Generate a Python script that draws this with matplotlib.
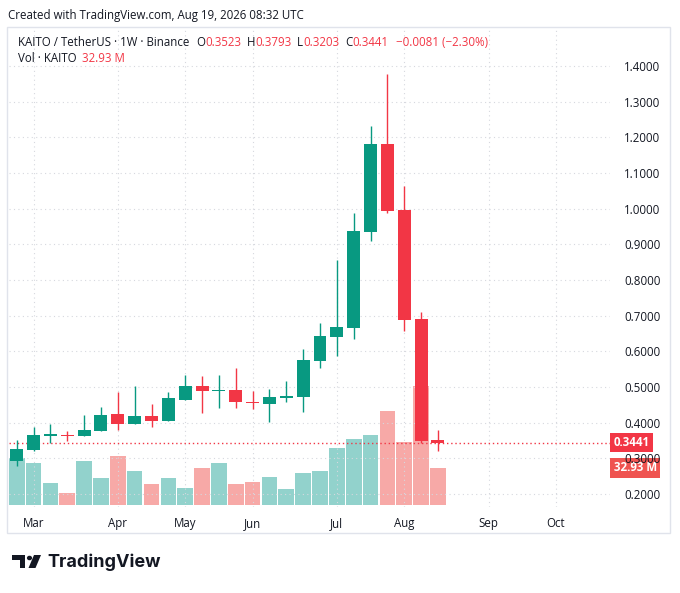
import numpy as np
import pandas as pd
import matplotlib
matplotlib.use('Agg')
import matplotlib.pyplot as plt
from matplotlib.patches import Rectangle, Polygon, Circle

plt.rcParams['font.family'] = ['Open Sans', 'DejaVu Sans']

# weekly KAITO/USDT candles, first week starts 2026-02-23
opens = [0.2935, 0.3235, 0.3640, 0.3650, 0.3630, 0.3770, 0.4235, 0.3955, 0.4190, 0.4040,
         0.4645, 0.5037, 0.4890, 0.4917, 0.4580, 0.4516, 0.4700, 0.4712, 0.5738, 0.6410,
         0.6664, 0.9346, 1.1822, 0.9963, 0.6907, 0.3523]
highs = [0.3515, 0.3870, 0.3955, 0.3767, 0.4207, 0.4430, 0.4860, 0.5037, 0.4516, 0.4850,
         0.5346, 0.5310, 0.5346, 0.5533, 0.4889, 0.4945, 0.5170, 0.6066, 0.6787, 0.8560,
         0.9870, 1.2318, 1.3776, 1.0636, 0.7095, 0.3793]
lows = [0.2786, 0.3210, 0.3422, 0.3495, 0.3620, 0.3760, 0.3796, 0.3950, 0.3870, 0.4040,
        0.4645, 0.4263, 0.4422, 0.4422, 0.4384, 0.4010, 0.4570, 0.4290, 0.5542, 0.5870,
        0.6355, 0.9094, 0.9870, 0.6570, 0.3422, 0.3203]
closes = [0.3263, 0.3647, 0.3660, 0.3620, 0.3796, 0.4224, 0.3955, 0.4180, 0.4040, 0.4684,
          0.5037, 0.4880, 0.4920, 0.4570, 0.4550, 0.4730, 0.4720, 0.5758, 0.6430, 0.6683,
          0.9374, 1.1822, 0.9935, 0.6880, 0.3500, 0.3441]
volumes_m = [42.0, 37.4, 19.7, 10.9, 39.1, 24.1, 43.5, 30.3, 18.8, 24.1,
             15.3, 32.9, 37.4, 18.8, 20.6, 25.0, 14.4, 28.5, 30.3, 50.6,
             58.6, 62.1, 83.0, 55.6, 105.7, 32.93]
price_ticks = [0.2, 0.3, 0.4, 0.5, 0.6, 0.7, 0.8, 0.9, 1.0, 1.1, 1.2, 1.3, 1.4]
last_price = 0.3441
last_vol = 32.93

UP = '#089981'
DOWN = '#F23645'
UP_VOL = '#92d2cc'
DOWN_VOL = '#f7a9a7'
GRID = '#d6d8de'
TXT = '#131722'

W, H = 680, 593
fig = plt.figure(figsize=(W / 100, H / 100), dpi=100)


def fx(px):
    return px / W


def fy(py):
    return 1 - py / H


# outer frame
fig.patches.append(Rectangle((fx(7), fy(533)), fx(663), 506 / H, transform=fig.transFigure,
                             fill=False, edgecolor='#e0e3eb', lw=1.0))

ax = fig.add_axes([fx(9), fy(507), fx(601), 480 / H])
ax2 = ax.twinx()
ax.set_zorder(ax2.get_zorder() + 1)
ax.patch.set_visible(False)

n = len(opens)
x = np.arange(n)
o = np.array(opens)
c = np.array(closes)
up = c >= o

# volume
vcol = [UP_VOL if u else DOWN_VOL for u in up]
ax2.bar(x, np.array(volumes_m) * 1e6, width=0.93, color=vcol, edgecolor='none')
ax2.set_ylim(-1.5e6, 422.2e6)
ax2.set_yticks([])
for s in ax2.spines.values():
    s.set_visible(False)

# candles
ccol = [UP if u else DOWN for u in up]
ax.vlines(x, lows, highs, colors=ccol, lw=1.0, zorder=3)
body_lo = np.minimum(o, c)
body_h = np.maximum(np.abs(c - o), 0.004)
ax.bar(x, body_h, bottom=body_lo, width=0.77, color=ccol, edgecolor='none', zorder=4)

ax.axhline(last_price, color=DOWN, lw=1.0, ls=(0, (1, 2)), zorder=2)

# axes
weeks = pd.date_range('2026-02-23', periods=36, freq='W-MON')
tick_pos = [i for i, d in enumerate(weeks) if d.day <= 7]
tick_lab = [weeks[i].strftime('%b') for i in tick_pos]
ax.set_xlim(-0.457, 35.21)
ax.set_ylim(0.1637, 1.5093)
ax.set_xticks(tick_pos)
ax.set_xticklabels(tick_lab)
ax.yaxis.tick_right()
ax.set_yticks(price_ticks)
ax.set_yticklabels([f'{t:.4f}' for t in price_ticks])
ax.tick_params(axis='both', length=0, labelsize=8.3, colors=TXT)
ax.tick_params(axis='y', pad=10)
ax.tick_params(axis='x', pad=7)
ax.grid(True, color=GRID, lw=0.8, ls=(0, (1, 3)))
for s in ax.spines.values():
    s.set_visible(False)

# last price / volume tags
ax.text(1.006, last_price, f'{last_price:.4f}', transform=ax.get_yaxis_transform(),
        ha='left', va='center', fontsize=8.3, color='white', fontweight='bold', zorder=10,
        bbox=dict(boxstyle='square,pad=0.28', fc=DOWN, ec='none'), clip_on=False)
ax2.text(1.006, last_vol * 1e6, f'{last_vol:.2f} M', transform=ax2.get_yaxis_transform(),
         ha='left', va='center', fontsize=8.3, color='white', fontweight='bold',
         bbox=dict(boxstyle='square,pad=0.28', fc='#ef5350', ec='none'), clip_on=False)

# header
fig.text(fx(8), fy(15), 'Created with TradingView.com, Aug 19, 2026 08:32 UTC',
         fontsize=8.3, color=TXT, va='center', ha='left')

# legend rows, each piece placed right after the previous one
segs = [('O', TXT, 5), ('0.3523', DOWN, 0), ('H', TXT, 4), ('0.3793', DOWN, 0),
        ('L', TXT, 4), ('0.3203', DOWN, 0), ('C', TXT, 4), ('0.3441', DOWN, 0),
        ('−0.0081 (−2.30%)', DOWN, 6)]
prev = fig.text(fx(18), fy(42), 'KAITO / TetherUS · 1W · Binance', fontsize=8.3, color=TXT,
                va='center', ha='left')
for s, col, gap in segs:
    prev = ax.annotate(s, xy=(1, 0), xycoords=prev, xytext=(gap, 0), textcoords='offset points',
                       fontsize=8.3, color=col, va='bottom', ha='left', annotation_clip=False)

t = fig.text(fx(18), fy(59), 'Vol · KAITO', fontsize=8.3, color=TXT, va='center', ha='left')
ax.annotate(f'{last_vol:.2f} M', xy=(1, 0), xycoords=t, xytext=(4, 0), textcoords='offset points',
            fontsize=8.3, color=DOWN, va='bottom', ha='left', annotation_clip=False)

# TradingView logo
fig.patches.append(Polygon([(fx(12), fy(555)), (fx(25), fy(555)), (fx(25), fy(568)), (fx(19.5), fy(568)),
                            (fx(19.5), fy(560)), (fx(12), fy(560))], closed=True,
                           transform=fig.transFigure, fc=TXT, ec='none'))
fig.patches.append(Circle((fx(29.5), fy(558)), 2.6 / W, transform=fig.transFigure, fc=TXT, ec='none'))
fig.patches.append(Polygon([(fx(34), fy(555)), (fx(41), fy(555)), (fx(35.5), fy(568)), (fx(28.5), fy(568))],
                           closed=True, transform=fig.transFigure, fc=TXT, ec='none'))
fig.text(fx(47), fy(562), 'TradingView', fontsize=13, fontweight='bold', color=TXT,
         family=['Inter', 'DejaVu Sans'], va='center', ha='left')

fig.savefig('out.png', dpi=100)
